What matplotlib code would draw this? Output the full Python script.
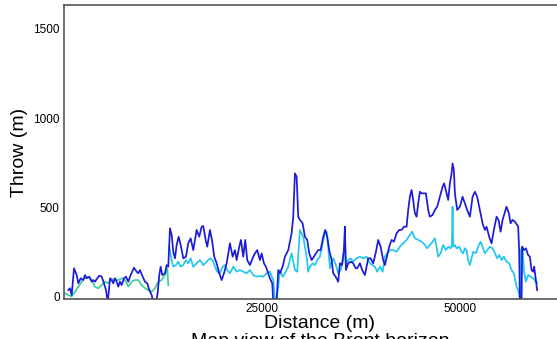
import matplotlib.pyplot as plt

plt.rcParams['font.family'] = ['Liberation Sans', 'DejaVu Sans']

# fault throw along strike
dist_a = [543, 758, 972, 1263, 1604, 1806, 2109, 2437, 2651, 2866, 3194, 3497, 3699, 3914,
          4204, 4457, 4760, 5050, 5303, 5518, 5682, 5808, 6023, 6225, 6439, 6654, 6856, 7071,
          7285, 7576, 7828, 8118, 8421, 8838, 9179, 9381, 9596, 9937, 10227, 10517, 10770,
          11073, 11275, 11616, 11830, 12033, 12209, 12411, 12752, 12967, 13169, 13384, 13598,
          13800, 14015, 14229, 14482, 14734, 15063, 15404, 15694, 15997, 16326, 16755, 17083,
          17386, 17588, 17891, 18093, 18434, 18724, 18977, 19280, 19608, 19911, 20202, 20543,
          20959, 21300, 21590, 21805, 22133, 22348, 22638, 22891, 23143, 23484, 23901, 24116,
          24406, 24747, 24962, 25252, 25505, 25795, 26010, 26300, 26426, 26641, 26856, 27058,
          27272, 27613, 27903, 28320, 28750, 28952, 29166, 29381, 29583, 29797, 30138, 30429,
          30719, 30972, 31275, 31565, 31818, 32108, 32411, 32739, 32992, 33244, 33497, 33800,
          34002, 34305, 34633, 34848, 35100, 35353, 35479, 35605, 35896, 36199, 36527, 36830,
          37032, 37373, 37663, 38004, 38219, 38421, 38724, 39052, 39355, 39683, 39986, 40315,
          40529, 40820, 41072, 41375, 41666, 42007, 42335, 42638, 42928, 43269, 43471, 43686,
          43900, 44102, 44317, 44532, 44734, 44949, 45163, 45365, 45706, 45997, 46211, 46552,
          46842, 47133, 47474, 47814, 48016, 48319, 48522, 48736, 48951, 49077, 49241, 49368,
          49658, 49999, 50340, 50630, 50921, 51262, 51603, 51893, 52183, 52524, 52865, 53156,
          53370, 53698, 54001, 54292, 54633, 54885, 55138, 55390, 55643, 55895, 56186, 56400,
          56653, 56943, 57234, 57360, 57486, 57575, 57701, 57790, 57866, 58080, 58333, 58623,
          58837, 59052, 59254, 59380, 59595, 59759]
throw_a = [36, 46, 8, 158, 120, 74, 102, 92, 120, 102, 111, 83, 92, 83,
           102, 117, 111, 74, 36, -30, 36, 102, 92, 74, 102, 83, 55, 83,
           64, 102, 111, 83, 120, 161, 139, 130, 148, 111, 83, 74, 36,
           8, -30, -30, 18, 120, 167, 120, 130, 176, 167, 382, 345,
           251, 214, 289, 335, 289, 214, 223, 298, 326, 260, 373, 335,
           391, 395, 317, 279, 373, 307, 223, 186, 130, 92, 130, 186,
           298, 223, 260, 204, 279, 317, 223, 317, 204, 176, 223, 242,
           260, 204, 242, 186, 167, 130, 102, 74, -30, -30, -30, 148,
           130, 167, 223, 260, 354, 447, 690, 671, 447, 429, 410, 335,
           317, 242, 204, 223, 242, 260, 260, 335, 373, 335, 260, 204,
           130, 111, 83, 186, 176, 260, 391, 148, 186, 195, 186, 158,
           158, 186, 148, 120, 167, 214, 214, 186, 242, 317, 279, 204,
           176, 232, 279, 317, 307, 354, 373, 373, 391, 391, 485, 559,
           597, 541, 466, 447, 522, 587, 578, 578, 578, 485, 447, 457,
           485, 503, 559, 615, 634, 578, 541, 634, 690, 746, 709, 578,
           485, 503, 559, 522, 485, 447, 559, 587, 559, 485, 410, 373,
           391, 335, 298, 373, 447, 429, 363, 429, 466, 503, 466, 410,
           429, 419, 401, 391, 260, -30, -30, -30, 279, 260, 270, 232,
           223, 148, 139, 167, 92, 36]

dist_b1 = [126, 543, 972, 1389, 1806, 2235, 2651, 3068, 3497, 3914, 4331, 4760, 5177, 5593,
           6023, 6439, 6856, 7285, 7702, 8118, 8548, 8964, 9381, 9810, 10227, 10644, 11073,
           11490, 11906, 12336, 12752, 13043, 13169]
throw_b1 = [18, 8, 0, 27, 55, 83, 105, 111, 92, 55, 46, 64, 83, 74,
            98, 92, 92, 102, 92, 55, 83, 92, 92, 64, 46, 36, 27,
            46, 83, 92, 120, 158, 64]

dist_b2 = [13295, 13598, 13800, 14141, 14431, 14734, 15063, 15404, 15694, 15997, 16326, 16755,
           17171, 17588, 18017, 18434, 18775, 19065, 19356, 19697, 20038, 20328, 20619, 20959,
           21376, 21805, 22222, 22638, 23068, 23484, 23901, 24330, 24747, 25164, 25593, 26010,
           26426, 26641, 26856, 27058, 27272, 27613, 27903, 28320, 28750, 29166, 29457, 29797,
           30214, 30643, 30845, 31060, 31401, 31691, 31982, 32323, 32664, 32954, 33168, 33370,
           33585, 33800, 34002, 34343, 34633, 34936, 35264, 35479, 35605, 35896, 36199, 36527,
           36956, 37373, 37790, 38219, 38636, 38977, 39267, 39558, 39898, 40239, 40529, 40820,
           41161, 41577, 42007, 42423, 42840, 43269, 43686, 43976, 44317, 44734, 45163, 45580,
           45871, 46211, 46552, 46842, 47057, 47259, 47562, 47890, 48231, 48522, 48825, 48989,
           49077, 49153, 49368, 49582, 49911, 50214, 50416, 50630, 50845, 51047, 51262, 51477,
           51679, 52020, 52310, 52613, 52865, 53156, 53446, 53787, 54128, 54419, 54709, 54962,
           55265, 55555, 55896, 56224, 56527, 56817, 57158, 57360, 57575, 57701, 57916, 58080,
           58333, 58623, 58925, 59254, 59595, 59759]
throw_b2 = [279, 204, 167, 176, 195, 167, 176, 204, 186, 214, 167, 186,
            204, 176, 195, 214, 204, 167, 139, 130, 167, 176, 148, 130,
            167, 139, 148, 139, 130, 148, 120, 111, 115, 111, 130, 139,
            92, -10, -10, 55, 148, 111, 130, 167, 242, 148, 139, 373,
            335, 223, 139, 167, 186, 176, 204, 223, 298, 354, 363, 279,
            158, 195, 214, 176, 130, 148, 204, 317, 176, 204, 214, 195,
            214, 223, 214, 223, 186, 176, 167, 139, 167, 139, 223, 242,
            260, 260, 251, 279, 298, 317, 345, 363, 326, 317, 307, 289,
            270, 289, 307, 326, 279, 223, 242, 289, 260, 279, 270, 289,
            503, 279, 289, 270, 279, 251, 242, 270, 260, 204, 176, 214,
            251, 242, 279, 307, 279, 242, 260, 279, 270, 242, 214, 232,
            204, 223, 195, 186, 148, 130, 55, 36, -10, 260, 279, 148,
            83, 120, 111, 102, 83, 77]

fig = plt.figure(figsize=(5.57, 3.39), dpi=100)
ax = fig.add_axes([0.1149, 0.118, 0.919, 0.867])

ax.plot(dist_b1, throw_b1, color='#3ccf98', lw=1.25)
ax.plot(dist_b2, throw_b2, color='#22c6f0', lw=1.25)
ax.plot(dist_a, throw_a, color='#1c1cd8', lw=1.25)

ax.set_xlim(0, 64650)
ax.set_ylim(-14, 1633)
ax.set_xticks([25000, 50000])
ax.set_yticks([0, 500, 1000, 1500])
ax.tick_params(length=0, labelsize=8.5, pad=3)
for s in ax.spines.values():
    s.set_color('#555555')
    s.set_linewidth(1.2)

ax.set_ylabel('Throw (m)', fontsize=14, labelpad=4)
# second line sits partly below the figure edge, as in the original
ax.set_xlabel('Distance (m)\nMap view of the Brent horizon', fontsize=14,
              labelpad=0, linespacing=1.1)

fig.savefig('out.png', dpi=100)
